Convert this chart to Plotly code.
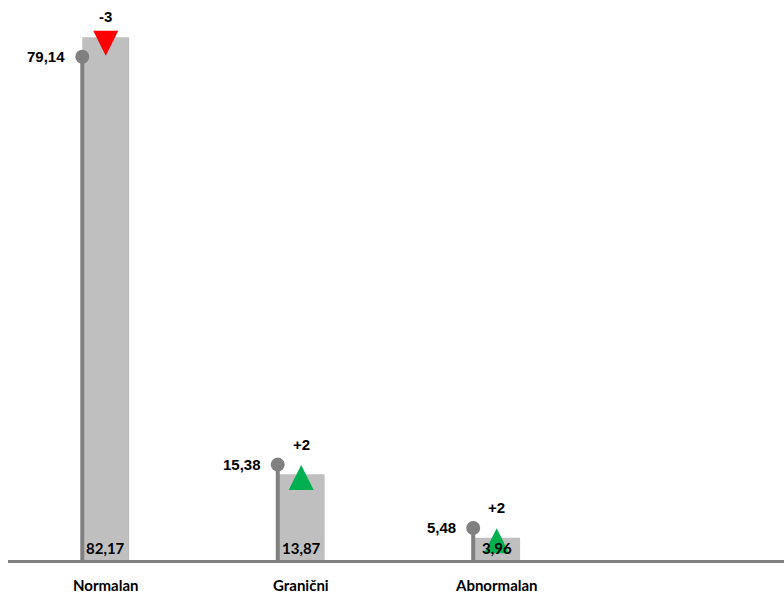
import plotly.graph_objects as go

categories = ["Normalan", "Granični", "Abnormalan"]
current_values = [82.17, 13.87, 3.96]
previous_values = [79.14, 15.38, 5.48]
changes = [-3, 2, 2]

W, H = 784, 594
M_L, M_R, M_T, M_B = 8, 0, 0, 31
Y_MAX = 88.0
X_RANGE = [-0.5, 3.47]
plot_h = H - M_T - M_B
scale = plot_h / Y_MAX  # px per unit

BAR_W = 0.24
GRAY_BAR = "#BFBFBF"
GRAY_LINE = "#808080"
RED = "#FF0000"
GREEN = "#00B050"
CAL = "Lato, 'Open Sans', sans-serif"
ARI = "'Liberation Sans', Arial, sans-serif"

xs = list(range(len(categories)))
stem_x = [x - BAR_W / 2 for x in xs]

fig = go.Figure()

fig.add_trace(go.Bar(x=xs, y=current_values, width=BAR_W, marker=dict(color=GRAY_BAR, line=dict(width=0)),
                     hoverinfo="skip"))

# lollipop stems
lx, ly = [], []
for sx, pv in zip(stem_x, previous_values):
    lx += [sx, sx, None]
    ly += [0, pv, None]
fig.add_trace(go.Scatter(x=lx, y=ly, mode="lines", line=dict(color=GRAY_LINE, width=4), hoverinfo="skip"))
fig.add_trace(go.Scatter(x=stem_x, y=previous_values, mode="markers",
                         marker=dict(color=GRAY_LINE, size=14), hoverinfo="skip"))

# change triangles
tx, ty, sym, col = [], [], [], []
for x, cv, ch in zip(xs, current_values, changes):
    tx.append(x)
    if ch < 0:
        ty.append(cv - 18.4 / scale)
        sym.append("arrow-down")
        col.append(RED)
    else:
        ty.append(cv + 9.3 / scale)
        sym.append("arrow-up")
        col.append(GREEN)
fig.add_trace(go.Scatter(x=tx, y=ty, mode="markers",
                         marker=dict(symbol=sym, color=col, size=25, line=dict(width=0)),
                         hoverinfo="skip"))

annotations = []
for x, sx, cv, pv, ch, cat in zip(xs, stem_x, current_values, previous_values, changes, categories):
    # previous value label
    annotations.append(dict(x=sx, y=pv, text=f"{pv:.2f}".replace(".", ","), showarrow=False,
                            xanchor="right", yanchor="middle", xshift=-15,
                            font=dict(family=ARI, size=15, color="black", weight="bold")))
    # current value label inside bar bottom
    annotations.append(dict(x=x, y=0, text=f"{cv:.2f}".replace(".", ","), showarrow=False,
                            xanchor="center", yanchor="middle", yshift=15,
                            font=dict(family=CAL, size=15, color="black", weight="bold")))
    # change label
    top_px = plot_h - cv * scale
    shift = min(30, top_px - 16)
    annotations.append(dict(x=x, y=cv, text=f"{ch:+d}", showarrow=False,
                            xanchor="center", yanchor="middle", yshift=shift,
                            font=dict(family=ARI, size=15, color="black", weight="bold")))
    # category label
    annotations.append(dict(x=x, y=0, text=cat, showarrow=False,
                            xanchor="center", yanchor="middle", yshift=-22,
                            font=dict(family=CAL, size=15, color="black", weight="bold")))

fig.update_layout(
    width=W, height=H,
    margin=dict(l=M_L, r=M_R, t=M_T, b=M_B),
    paper_bgcolor="white", plot_bgcolor="white",
    showlegend=False,
    xaxis=dict(range=X_RANGE, showgrid=False, zeroline=False, showticklabels=False, showline=False, fixedrange=True),
    yaxis=dict(range=[0, Y_MAX], showgrid=False, zeroline=False, showticklabels=False, showline=False, fixedrange=True),
    annotations=annotations,
    shapes=[dict(type="line", xref="paper", yref="y", x0=0, x1=1, y0=0, y1=0,
                 line=dict(color=GRAY_LINE, width=6), layer="above")],
)

fig.write_html("out.html", config={"displayModeBar": False},
               post_script="document.body.style.margin='0';document.body.style.overflow='hidden';")
